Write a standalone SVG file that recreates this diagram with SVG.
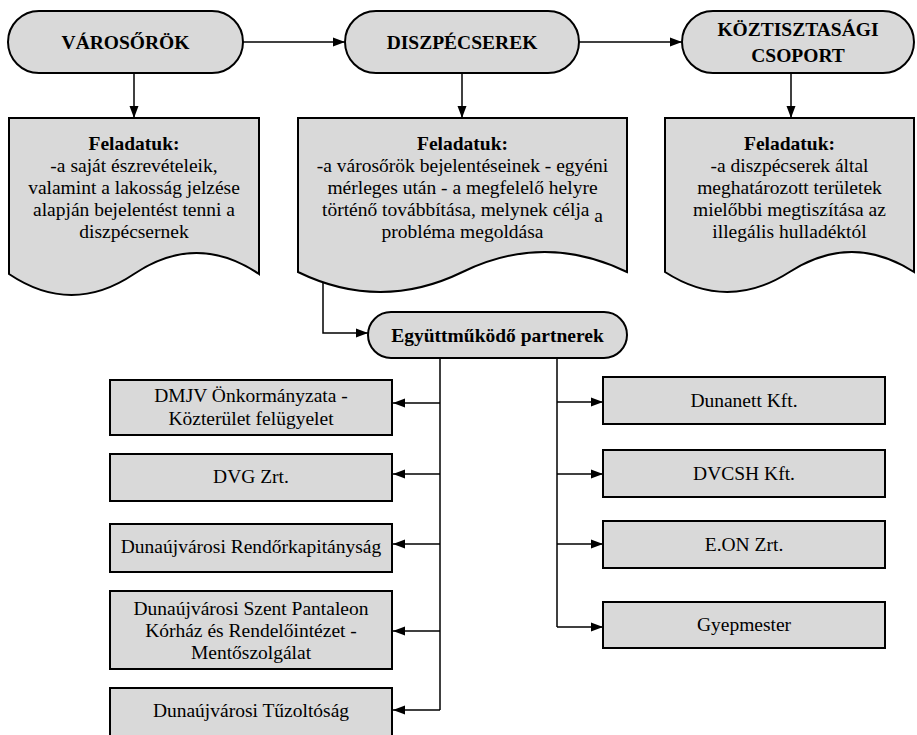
<svg xmlns="http://www.w3.org/2000/svg" width="917" height="735" viewBox="0 0 917 735">
<style>
.shape{fill:#d9d9d9;stroke:#000;stroke-width:2}
.conn{fill:none;stroke:#000;stroke-width:1.5}
text{font-family:'Liberation Serif','Times New Roman',Tinos,'DejaVu Serif','Noto Serif',serif;fill:#000;text-anchor:middle;font-size:19.5px}
.b{font-weight:bold}
</style>
<defs>
<marker id="ah" markerUnits="userSpaceOnUse" markerWidth="13" markerHeight="10" refX="12" refY="5" orient="auto">
<path d="M0,0.5 L12,5 L0,9.5 Z" fill="#000"/>
</marker>
</defs>
<rect width="917" height="735" fill="#fff"/>

<g id="connectors">
<path class="conn" d="M243,42 H345" marker-end="url(#ah)"/>
<path class="conn" d="M579,42 H682" marker-end="url(#ah)"/>
<path class="conn" d="M134,73 V118" marker-end="url(#ah)"/>
<path class="conn" d="M462,73 V118" marker-end="url(#ah)"/>
<path class="conn" d="M791,73 V118" marker-end="url(#ah)"/>
<path class="conn" d="M323,282 V333 H368" marker-end="url(#ah)"/>
<path class="conn" d="M440,358 V710"/>
<path class="conn" d="M440,403 H393" marker-end="url(#ah)"/>
<path class="conn" d="M440,474 H393" marker-end="url(#ah)"/>
<path class="conn" d="M440,544 H393" marker-end="url(#ah)"/>
<path class="conn" d="M440,631 H393" marker-end="url(#ah)"/>
<path class="conn" d="M440,710 H393" marker-end="url(#ah)"/>
<path class="conn" d="M557,358 V627"/>
<path class="conn" d="M557,402 H603" marker-end="url(#ah)"/>
<path class="conn" d="M557,474 H603" marker-end="url(#ah)"/>
<path class="conn" d="M557,544 H603" marker-end="url(#ah)"/>
<path class="conn" d="M557,627 H603" marker-end="url(#ah)"/>
</g>

<g id="varosorok">
<rect class="shape" x="8" y="11" width="235" height="62" rx="31"/>
<text class="b" x="125.5" y="49">VÁROSŐRÖK</text>
</g>
<g id="diszpecserek">
<rect class="shape" x="345" y="11" width="234" height="62" rx="31"/>
<text class="b" x="462" y="49">DISZPÉCSEREK</text>
</g>
<g id="koztisztasagi">
<rect class="shape" x="682" y="11" width="232" height="62" rx="31"/>
<text class="b" x="798" y="36">KÖZTISZTASÁGI</text>
<text class="b" x="798" y="62">CSOPORT</text>
</g>

<g id="feladat1">
<path class="shape" d="M9,118 H259 V274 Q196.5,232 134,274 Q71.5,316 9,274 Z"/>
<text class="b" x="134" y="150">Feladatuk:</text>
<text x="134" y="172">-a saját észrevételeik,</text>
<text x="134" y="194">valamint a lakosság jelzése</text>
<text x="134" y="216">alapján bejelentést tenni a</text>
<text x="134" y="238">diszpécsernek</text>
</g>
<g id="feladat2">
<path class="shape" d="M298,118 H627 V272 Q544.75,232 462.5,272 Q380.25,312 298,272 Z"/>
<text class="b" x="462.5" y="150">Feladatuk:</text>
<text x="462.5" y="172">-a városőrök bejelentéseinek - egyéni</text>
<text x="462.5" y="194">mérleges után - a megfelelő helyre</text>
<text x="462.5" y="216">történő továbbítása, melynek célja <tspan dy="6">a</tspan></text>
<text x="462.5" y="238">probléma megoldása</text>
</g>
<g id="feladat3">
<path class="shape" d="M665,118 H914 V272 Q851.75,232 789.5,272 Q727.25,312 665,272 Z"/>
<text class="b" x="789.5" y="150">Feladatuk:</text>
<text x="789.5" y="172">-a diszpécserek által</text>
<text x="789.5" y="194">meghatározott területek</text>
<text x="789.5" y="216">mielőbbi megtiszítása az</text>
<text x="789.5" y="238">illegális hulladéktól</text>
</g>

<g id="partnerek">
<rect class="shape" x="368" y="312" width="259" height="46" rx="23"/>
<text class="b" x="497.5" y="342">Együttműködő partnerek</text>
</g>

<g id="dmjv">
<rect class="shape" x="110" y="380" width="282" height="55"/>
<text x="251" y="402">DMJV Önkormányzata -</text>
<text x="251" y="425">Közterület felügyelet</text>
</g>
<g id="dvg">
<rect class="shape" x="110" y="454" width="282" height="47"/>
<text x="251" y="483">DVG Zrt.</text>
</g>
<g id="rendorkapitanysag">
<rect class="shape" x="110" y="524" width="282" height="48"/>
<text x="251" y="553">Dunaújvárosi Rendőrkapitányság</text>
</g>
<g id="korhaz">
<rect class="shape" x="110" y="591" width="282" height="78"/>
<text x="251" y="615">Dunaújvárosi Szent Pantaleon</text>
<text x="251" y="637">Kórház és Rendelőintézet -</text>
<text x="251" y="659">Mentőszolgálat</text>
</g>
<g id="tuzoltosag">
<rect class="shape" x="110" y="688" width="282" height="60"/>
<text x="251" y="717">Dunaújvárosi Tűzoltóság</text>
</g>

<g id="dunanett">
<rect class="shape" x="603" y="377" width="282" height="47"/>
<text x="744" y="407">Dunanett Kft.</text>
</g>
<g id="dvcsh">
<rect class="shape" x="603" y="450" width="282" height="47"/>
<text x="744" y="480">DVCSH Kft.</text>
</g>
<g id="eon">
<rect class="shape" x="603" y="521" width="282" height="47"/>
<text x="744" y="551">E.ON Zrt.</text>
</g>
<g id="gyepmester">
<rect class="shape" x="603" y="602" width="282" height="46"/>
<text x="744" y="631">Gyepmester</text>
</g>
</svg>
